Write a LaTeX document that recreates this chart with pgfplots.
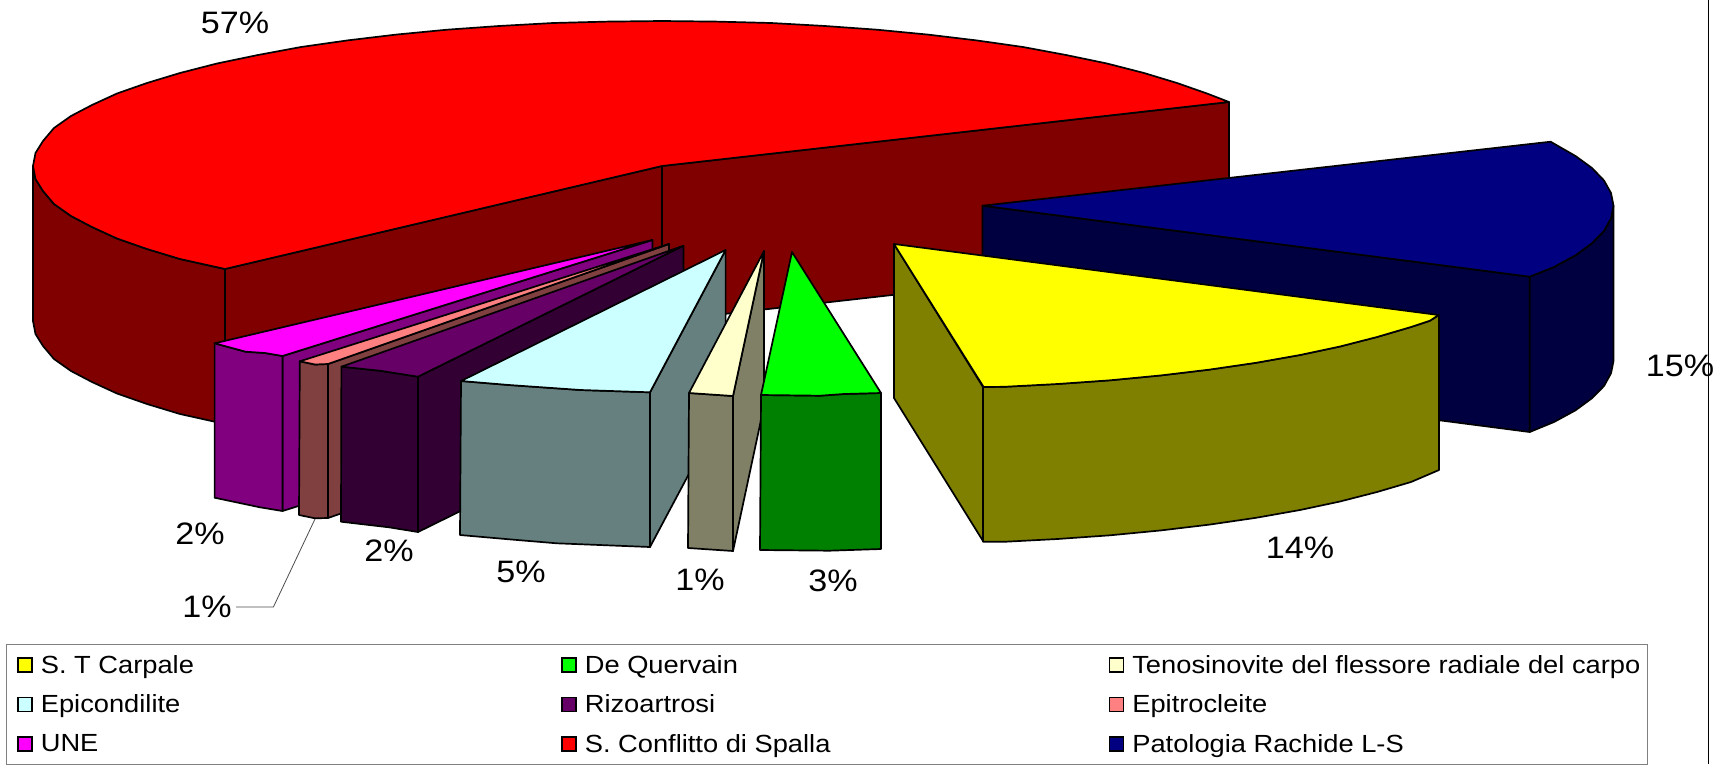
\documentclass[border=0pt]{standalone}
\usepackage{fontspec}
\setmainfont[FakeStretch=1.1]{Liberation Sans}
\usepackage{pgfplots}
\pgfplotsset{compat=1.18}
\definecolor{redT}{HTML}{FF0000}\definecolor{redS}{HTML}{800000}\definecolor{blueT}{HTML}{000080}\definecolor{blueS}{HTML}{000040}
\definecolor{yelT}{HTML}{FFFF00}\definecolor{yelS}{HTML}{808000}\definecolor{cyanT}{HTML}{CCFFFF}\definecolor{cyanS}{HTML}{668080}
\definecolor{creT}{HTML}{FFFFCC}\definecolor{creS}{HTML}{808066}\definecolor{greT}{HTML}{00FF00}\definecolor{greS}{HTML}{008000}
\definecolor{rizT}{HTML}{660066}\definecolor{rizS}{HTML}{330033}\definecolor{epiT}{HTML}{FF8080}
\definecolor{epiS}{HTML}{804040}\definecolor{uneT}{HTML}{FF00FF}\definecolor{uneS}{HTML}{800080}
\pgfplotsset{fc/.style={fill=#1,draw=black,line width=1.7pt,line join=round,forget plot}}
\newcommand{\lab}[3]{\node[font=\fontsize{31}{33}\selectfont,inner sep=0pt] at (axis cs:#1,#2) {#3};}
\begin{document}
\begin{tikzpicture}
\begin{axis}[
  scale only axis,width=1730pt,height=764pt,
  xmin=0,xmax=1730,ymin=0,ymax=764,y dir=reverse,
  axis line style={draw=none},xtick=\empty,ytick=\empty,clip=false,
  legend columns=3,
  legend cell align=left,
  legend image code/.code={\path (0pt,0pt); \draw[line width=1.5pt,#1] (6.6pt,-7pt) rectangle (20.6pt,7pt);},
  legend style={at={(axis cs:5.5,644)},anchor=north west,draw=gray,line width=1pt,
    font=\fontsize{24.8}{26}\selectfont,inner xsep=5pt,inner ysep=9pt,
    row sep=16pt,
    /tikz/column 1/.style={column sep=6pt},
    /tikz/column 3/.style={column sep=6pt},
    /tikz/column 5/.style={column sep=6pt},
    /tikz/column 2/.style={column sep=359pt},
    /tikz/column 4/.style={column sep=270pt}},
]
% S. Conflitto di Spalla
\addplot[fc=redS] coordinates {(225,269)(180,259)(147,249)(117,238.5)(92,227)(71,216)(54,204)(43,191)(35.5,179)(33,166)(33,321)(35.5,334)(43,346)(54,359)(71,371)(92,382)(117,393.5)(147,404)(180,414)(225,424)} -- cycle;
\addplot[fc=redS] coordinates {(662,166)(225,269)(225,424)(662,321)} -- cycle;
\addplot[fc=redS] coordinates {(662,166)(1229,102)(1229,257)(662,321)} -- cycle;
\addplot[fc=redT] coordinates {(662,166)(225,269)(180,259)(147,249)(117,238.5)(92,227)(71,216)(54,204)(43,191)(35.5,179)(33,166)(35.5,153)(43,141)(54,128)(71,116)(92,105)(117,93.5)(147,83)(180,73)(217,63.5)(258,55)(301,47)(347.5,40.4)(396,34.6)(447,29.7)(499,26)(553,23)(607,21.6)(662,21)(717,21.6)(771,23)(825,26)(877,29.7)(928,34.6)(976.5,40.4)(1023,47)(1066,55)(1107,63.5)(1144,73)(1177,83)(1207,93.5)(1229,102)} -- cycle;
% Patologia Rachide L-S
\addplot[fc=blueS] coordinates {(982.5,205.7)(1529.7,276.7)(1529.7,432)(982.5,361)} -- cycle;
\addplot[fc=blueS] coordinates {(1529.7,276.7)(1554,267)(1575.5,255.3)(1592,243.2)(1604,231)(1611,218.3)(1613.5,205.7)(1613.5,361)(1611,373.3)(1604,386)(1592,398.2)(1575.5,410.3)(1554,422)(1529.7,432)} -- cycle;
\addplot[fc=blueT] coordinates {(982.5,205.7)(1550.6,141.7)(1575.5,156)(1592,168)(1604,180.5)(1611,193)(1613.5,205.7)(1611,218.3)(1604,231)(1592,243.2)(1575.5,255.3)(1554,267)(1529.7,276.7)} -- cycle;
% S. T Carpale
\addplot[fc=yelS] coordinates {(894,244)(983,387)(983,541)(894,398)} -- cycle;
\addplot[fc=yelS] coordinates {(983,387)(1004,386.8)(1057.4,384)(1110,380.3)(1161,375.4)(1209.5,369.6)(1256,362.8)(1300,355)(1340,346.5)(1377,337)(1411,327)(1430,320.7)(1439,315)(1439,470)(1411,482)(1377,492)(1340,501.5)(1300,510)(1256,517.8)(1209.5,524.6)(1161,530.4)(1110,535.3)(1057.4,539)(1004,541.8)(983,541.8)} -- cycle;
\addplot[fc=yelT] coordinates {(894,244)(1438.6,315)(1430,320.7)(1411,327)(1377,337)(1340,346.5)(1300,355)(1256,362.8)(1209.5,369.6)(1161,375.4)(1110,380.3)(1057.4,384)(1004,386.8)(983.6,387)} -- cycle;
% UNE
\addplot[fc=uneS] coordinates {(652.4,240)(282.5,356)(282.5,511)(652.4,395)} -- cycle;
\addplot[fc=uneS] coordinates {(214.6,343.3)(245.7,351.7)(265,353)(282.5,356)(282.5,511)(260,507.3)(214.6,497.7)} -- cycle;
\addplot[fc=uneT] coordinates {(652.4,240)(214.6,343.3)(245.7,351.7)(265,353)(282.5,356)} -- cycle;
% Epitrocleite
\addplot[fc=epiS] coordinates {(669,244)(328,364)(328,518)(669,399)} -- cycle;
\addplot[fc=epiS] coordinates {(299.8,361.3)(315,364.5)(328,364)(328,518)(315,518.3)(299,515)} -- cycle;
\addplot[fc=epiT] coordinates {(669,244)(299.8,361.3)(315,364.5)(328,364)} -- cycle;
% Rizoartrosi
\addplot[fc=rizS] coordinates {(683.5,245.7)(418,376.7)(418,532)(683.5,401)} -- cycle;
\addplot[fc=rizS] coordinates {(341.4,366.7)(379.7,370.7)(418,376.7)(418,532)(389,527.3)(341,521.7)} -- cycle;
\addplot[fc=rizT] coordinates {(683.5,245.7)(341.4,366.7)(379.7,370.7)(418,376.7)} -- cycle;
% Epicondilite
\addplot[fc=cyanS] coordinates {(725.6,250)(650,392.3)(650,547)(725.6,405)} -- cycle;
\addplot[fc=cyanS] coordinates {(461,381)(509,385)(580.6,390)(650,392.3)(650,547)(556.7,543.3)(509,539.3)(460,535)} -- cycle;
\addplot[fc=cyanT] coordinates {(725.6,250)(461,381)(509,385)(580.6,390)(650,392.3)} -- cycle;
% Tenosinovite
\addplot[fc=creS] coordinates {(764,251)(733,396)(733,551)(764,406)} -- cycle;
\addplot[fc=creS] coordinates {(689,393)(733,396)(733,551)(688,548)} -- cycle;
\addplot[fc=creT] coordinates {(764,251)(689,393)(733,396)} -- cycle;
% De Quervain
\addplot[fc=greS] coordinates {(761,395)(820,395.7)(844,394)(881,393)(881,549)(829.4,550.7)(760,550)} -- cycle;
\addplot[fc=greT] coordinates {(792,252)(761,395)(820,395.7)(844,394)(881,393)} -- cycle;
% leader and border line
\addplot[draw=black!70,line width=0.8pt,forget plot] coordinates {(236,607)(273.4,607)(315,519)};
\addplot[draw=black,line width=1pt,forget plot] coordinates {(1708,0)(1708,764)};
% labels
\lab{235}{23}{57\%}
\lab{1680}{366}{15\%}
\lab{1300}{548}{14\%}
\lab{200}{534}{2\%}
\lab{207}{607}{1\%}
\lab{389}{551}{2\%}
\lab{521}{572}{5\%}
\lab{700}{580}{1\%}
\lab{833}{581}{3\%}
% legend
\addlegendimage{fill=yelT,draw=black}\addlegendentry{S. T Carpale}
\addlegendimage{fill=greT,draw=black}\addlegendentry{De Quervain}
\addlegendimage{fill=creT,draw=black}\addlegendentry{Tenosinovite del flessore radiale del carpo}
\addlegendimage{fill=cyanT,draw=black}\addlegendentry{Epicondilite}
\addlegendimage{fill=rizT,draw=black}\addlegendentry{Rizoartrosi}
\addlegendimage{fill=epiT,draw=black}\addlegendentry{Epitrocleite}
\addlegendimage{fill=uneT,draw=black}\addlegendentry{UNE}
\addlegendimage{fill=redT,draw=black}\addlegendentry{S. Conflitto di Spalla}
\addlegendimage{fill=blueT,draw=black}\addlegendentry{Patologia Rachide L-S}
\end{axis}
\pgfresetboundingbox
\path[use as bounding box] (0,0) rectangle (1730pt,764pt);
\end{tikzpicture}
\end{document}
